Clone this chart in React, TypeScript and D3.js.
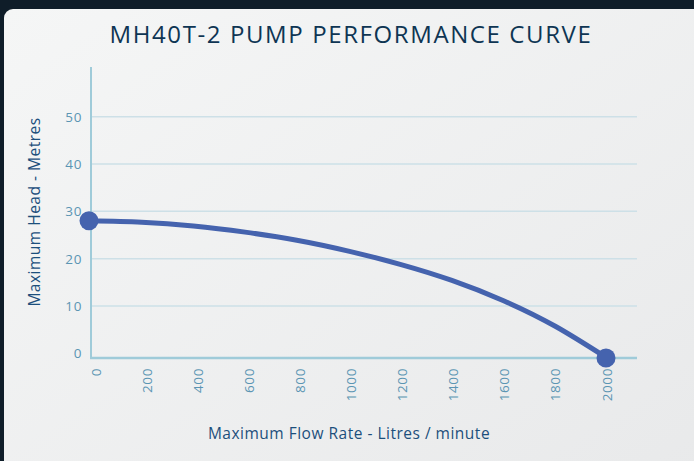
import React, { useRef, useEffect } from "react";
import * as d3 from "d3";

const flowRates = [0, 200, 400, 600, 800, 1000, 1200, 1400, 1600, 1800, 2000];
const headMetres = [28, 27.7, 26.9, 25.6, 23.9, 21.6, 18.8, 15.4, 11.1, 5.7, -1];
const yTicks = [0, 10, 20, 30, 40, 50];
const xTickLabels = ["0", "200", "400", "600", "800", "1000", "1200", "1400", "1600", "1800", "2000"];

const W = 694;
const H = 461;

export default function App() {
  const svgRef = useRef<SVGSVGElement>(null);

  useEffect(() => {
    if (!svgRef.current) return;
    const svg = d3.select(svgRef.current);
    svg.selectAll("*").remove();

    const font = "'Open Sans', sans-serif";

    // card background
    const defs = svg.append("defs");
    const grad = defs
      .append("linearGradient")
      .attr("id", "cardGrad")
      .attr("x1", "0%")
      .attr("y1", "0%")
      .attr("x2", "100%")
      .attr("y2", "100%");
    grad.append("stop").attr("offset", "0%").attr("stop-color", "#f5f6f6");
    grad.append("stop").attr("offset", "100%").attr("stop-color", "#e8e9ea");

    svg.append("rect").attr("width", W).attr("height", H).attr("fill", "#0f1d29");
    svg
      .append("rect")
      .attr("x", 4)
      .attr("y", 9)
      .attr("width", W + 20)
      .attr("height", H + 20)
      .attr("rx", 9)
      .attr("fill", "url(#cardGrad)");

    // scales
    const x = d3.scaleLinear().domain([0, 2000]).range([90, 607]);
    const y = d3.scaleLinear().domain([-1, 60.5]).range([358, 67]);
    const xLabelPos = d3.scalePoint<string>().domain(xTickLabels).range([96, 607]);

    // gridlines
    svg
      .append("g")
      .selectAll("line")
      .data(yTicks.filter((t) => t > 0))
      .enter()
      .append("line")
      .attr("x1", 91)
      .attr("x2", 637)
      .attr("y1", (d) => y(d))
      .attr("y2", (d) => y(d))
      .attr("stroke", "#cde0e7")
      .attr("stroke-width", 1.5);

    // axes lines
    svg
      .append("line")
      .attr("x1", 91)
      .attr("x2", 91)
      .attr("y1", 67)
      .attr("y2", 358)
      .attr("stroke", "#9fcbd9")
      .attr("stroke-width", 2);
    svg
      .append("line")
      .attr("x1", 90)
      .attr("x2", 637)
      .attr("y1", y(-1))
      .attr("y2", y(-1))
      .attr("stroke", "#9fcbd9")
      .attr("stroke-width", 2.5);

    // y tick labels
    svg
      .append("g")
      .selectAll("text")
      .data(yTicks)
      .enter()
      .append("text")
      .attr("x", 82)
      .attr("y", (d) => y(d) + 5)
      .attr("text-anchor", "end")
      .attr("font-family", font)
      .attr("font-size", 13.5)
      .attr("letter-spacing", 0.6)
      .attr("fill", "#5b95b3")
      .text((d) => d);

    // x tick labels (rotated)
    svg
      .append("g")
      .selectAll("text")
      .data(xTickLabels)
      .enter()
      .append("text")
      .attr("transform", (d) => `translate(${(xLabelPos(d) as number) + 4.5},368) rotate(-90)`)
      .attr("text-anchor", "end")
      .attr("font-family", font)
      .attr("font-size", 13.5)
      .attr("letter-spacing", 0.6)
      .attr("fill", "#5b95b3")
      .text((d) => d);

    // curve
    const pts = flowRates.map((f, i) => [f, headMetres[i]] as [number, number]);
    const line = d3
      .line<[number, number]>()
      .x((d) => x(d[0]))
      .y((d) => y(d[1]))
      .curve(d3.curveNatural);
    svg
      .append("path")
      .attr("d", line(pts))
      .attr("fill", "none")
      .attr("stroke", "#4563ae")
      .attr("stroke-width", 5)
      .attr("stroke-linecap", "round");

    // end markers
    svg
      .append("g")
      .selectAll("circle")
      .data([pts[0], pts[pts.length - 1]])
      .enter()
      .append("circle")
      .attr("cx", (d) => x(d[0]) - 1)
      .attr("cy", (d) => y(d[1]))
      .attr("r", 9.5)
      .attr("fill", "#4563ae");

    // titles
    svg
      .append("text")
      .attr("x", 351)
      .attr("y", 43)
      .attr("text-anchor", "middle")
      .attr("font-family", font)
      .attr("font-size", 24)
      .attr("letter-spacing", 1.6)
      .attr("fill", "#0e3553")
      .text("MH40T-2 PUMP PERFORMANCE CURVE");

    svg
      .append("text")
      .attr("x", 349)
      .attr("y", 439)
      .attr("text-anchor", "middle")
      .attr("font-family", font)
      .attr("font-size", 15.5)
      .attr("letter-spacing", 0.5)
      .attr("fill", "#1c4f7c")
      .text("Maximum Flow Rate - Litres / minute");

    svg
      .append("text")
      .attr("transform", "translate(40,212) rotate(-90)")
      .attr("text-anchor", "middle")
      .attr("font-family", font)
      .attr("font-size", 15.5)
      .attr("letter-spacing", 0.5)
      .attr("fill", "#1c4f7c")
      .text("Maximum Head - Metres");
  }, []);

  return (
    <div style={{ position: "fixed", left: 0, top: 0, width: W, height: H }}>
      <svg ref={svgRef} width={W} height={H} style={{ display: "block" }} />
    </div>
  );
}
